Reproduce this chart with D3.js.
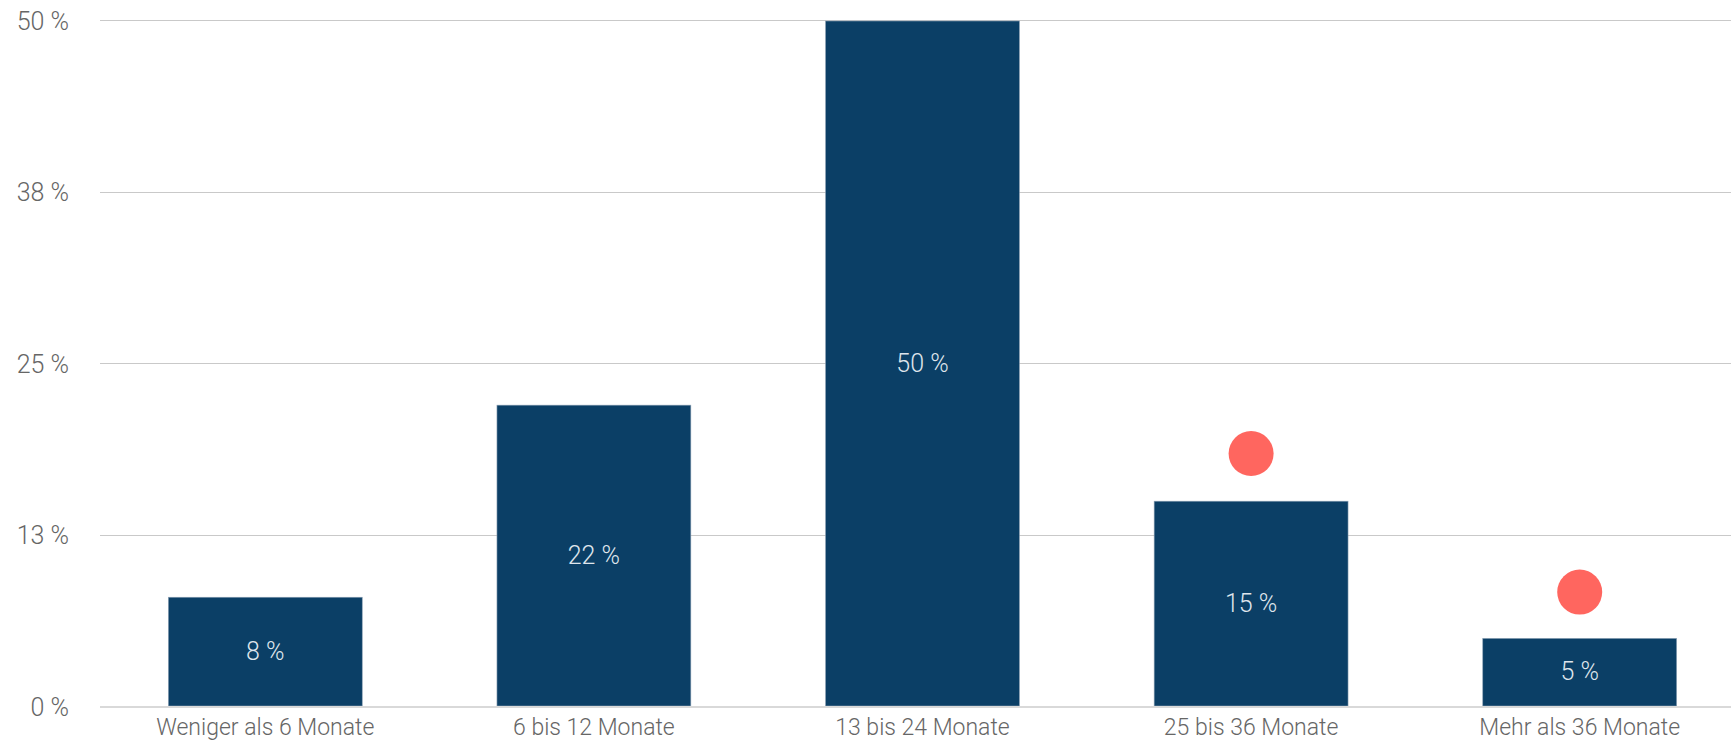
<!DOCTYPE html>
<html>
<head>
<meta charset="utf-8">
<script src="https://cdn.jsdelivr.net/npm/d3@7"></script>
<style>
  html, body { margin: 0; padding: 0; background: #fff; }
  svg { display: block; font-family: Roboto, "Open Sans", sans-serif; }
</style>
</head>
<body>
<div id="chart"></div>
<script>
  // Categories and values
  const categories = ['Weniger als 6 Monate', '6 bis 12 Monate', '13 bis 24 Monate', '25 bis 36 Monate', 'Mehr als 36 Monate'];
  const barValues = [8, 22, 50, 15, 5];
  const barLabels = ['8 %', '22 %', '50 %', '15 %', '5 %'];
  // red markers, only on the last two categories
  const dotCategories = ['25 bis 36 Monate', 'Mehr als 36 Monate'];
  const dotValues = [18.4, 8.3];
  const yTicks = [0, 12.5, 25, 37.5, 50];
  const yTickLabels = ['0 %', '13 %', '25 %', '38 %', '50 %'];

  const BAR_COLOR = '#0b3f66';
  const DOT_COLOR = '#ff665f';

  const width = 1731, height = 745;
  const margin = { top: 20, right: 0, bottom: 39, left: 100 };

  const svg = d3.select('#chart').append('svg')
    .attr('width', width)
    .attr('height', height);

  const x = d3.scaleBand()
    .domain(categories)
    .range([101, 1744])
    .paddingInner(0.41)
    .paddingOuter(0.205);

  const y = d3.scaleLinear()
    .domain([0, 50])
    .range([height - margin.bottom, margin.top]);

  // Grid lines
  svg.append('g')
    .selectAll('line')
    .data(yTicks.filter(d => d > 0))
    .join('line')
    .attr('x1', margin.left)
    .attr('x2', width)
    .attr('y1', d => Math.round(y(d)) + 0.5)
    .attr('y2', d => Math.round(y(d)) + 0.5)
    .attr('stroke', '#c9c9c9')
    .attr('stroke-width', 1);

  // Y tick labels
  svg.append('g')
    .selectAll('text')
    .data(yTicks)
    .join('text')
    .attr('x', 69)
    .attr('y', d => y(d) + 1)
    .attr('dy', '0.35em')
    .attr('text-anchor', 'end')
    .attr('fill', '#666')
    .attr('font-size', '25px')
    .attr('font-weight', 300)
    .text((d, i) => yTickLabels[i]);

  // Bars
  svg.append('g')
    .selectAll('rect')
    .data(barValues)
    .join('rect')
    .attr('x', (d, i) => x(categories[i]))
    .attr('width', x.bandwidth())
    .attr('y', d => y(d) + 1)
    .attr('height', d => y(0) - y(d) - 1)
    .attr('fill', BAR_COLOR)
    .attr('stroke', '#8a9fb3')
    .attr('stroke-width', 0.6);

  // Baseline
  svg.append('line')
    .attr('x1', margin.left)
    .attr('x2', width)
    .attr('y1', y(0) + 1)
    .attr('y2', y(0) + 1)
    .attr('stroke', '#d9d9d9')
    .attr('stroke-width', 2);

  // Value labels in the middle of each bar
  svg.append('g')
    .selectAll('text')
    .data(barValues)
    .join('text')
    .attr('x', (d, i) => x(categories[i]) + x.bandwidth() / 2)
    .attr('y', d => (y(d) + y(0)) / 2)
    .attr('dy', '0.35em')
    .attr('text-anchor', 'middle')
    .attr('fill', '#dfe5ec')
    .attr('font-size', '25px')
    .attr('font-weight', 300)
    .text((d, i) => barLabels[i]);

  // Red dots
  svg.append('g')
    .selectAll('circle')
    .data(dotValues)
    .join('circle')
    .attr('cx', (d, i) => x(dotCategories[i]) + x.bandwidth() / 2)
    .attr('cy', d => y(d))
    .attr('r', 22.5)
    .attr('fill', DOT_COLOR);

  // X category labels
  svg.append('g')
    .selectAll('text')
    .data(categories)
    .join('text')
    .attr('x', d => x(d) + x.bandwidth() / 2)
    .attr('y', 727)
    .attr('dy', '0.35em')
    .attr('text-anchor', 'middle')
    .attr('fill', '#666')
    .attr('font-size', '23px')
    .attr('font-weight', 300)
    .text(d => d);
</script>
</body>
</html>
